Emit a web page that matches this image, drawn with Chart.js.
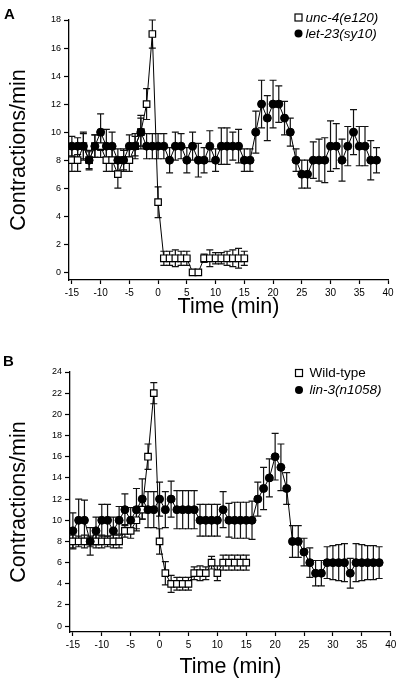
<!DOCTYPE html>
<html><head><meta charset="utf-8">
<script src="https://cdn.jsdelivr.net/npm/chart.js@4.4.0/dist/chart.umd.min.js"></script>
<style>
html,body{margin:0;padding:0;background:#fff;width:400px;height:684px;overflow:hidden}
canvas{position:absolute;left:0}
</style></head>
<body>
<canvas id="chartA" width="400" height="342" style="top:0"></canvas>
<canvas id="chartB" width="400" height="342" style="top:342px"></canvas>
<script>
// ---------- DATA ----------
const minutesShort = [-15,-14,-13,-12,-11,-10,-9,-8,-7,-6,-5,-4,-3,-2,-1,0,1,2,3,4,5,6,7,8,9,10,11,12,13,14,15];
const minutesLong = [-15,-14,-13,-12,-11,-10,-9,-8,-7,-6,-5,-4,-3,-2,-1,0,1,2,3,4,5,6,7,8,9,10,11,12,13,14,15,16,17,18,19,20,21,22,23,24,25,26,27,28,29,30,31,32,33,34,35,36,37,38];
const xTickLabels = [-15,-10,-5,0,5,10,15,20,25,30,35,40];
const yTicksA = [0,2,4,6,8,10,12,14,16,18];
const yTicksB = [0,2,4,6,8,10,12,14,16,18,20,22,24];

const seriesNamesA = ['unc-4(e120)', 'let-23(sy10)'];
const seriesNamesB = ['Wild-type', 'lin-3(n1058)'];

// Panel A
const unc4 = [8,8,9,8,9,9,8,8,7,8, 8,9,10,12,17, 5, 1,1,1,1,1, 0,0, 1,1,1,1,1,1,1,1];
const unc4Err = [0.8,0.8,0.9,0.7,0.8,0.8,0.8,0.8,1.0,0.8, 0.8,0.9,1.0,1.1,1.0, 1.1, 0.5,0.5,0.6,0.5,0.5, 0.2,0.2, 0.3,0.6,0.4,0.4,0.5,0.6,0.7,0.5];
const let23 = [9,9,9,8,9,10,9,9,8,8, 9,9,10,9,9,9,9,8,9,9, 8,9,8,8,9,8,9,9,9,9, 8,8,10,12,11,12,12,11,10,8, 7,7,8,8,8,9,9,8,9,10, 9,9,8,8];
const let23Err = [0.7,0.6,1.0,0.6,0.8,1.3,1.2,1.0,0.8,0.7, 0.8,0.7,1.2,0.9,0.9,0.9,0.9,0.9,1.0,0.9, 0.9,1.0,1.2,0.9,1.1,0.8,1.3,1.3,1.0,1.2, 0.8,0.8,1.5,1.7,1.6,1.7,1.3,1.2,1.0,0.8, 1.0,1.0,1.3,1.5,1.6,1.8,1.6,1.5,1.4,1.6, 1.4,1.4,1.4,0.9];

// Panel B
const wildType = [8,8,8,8,8,8,8,8,8,9, 9,10,11,16,22, 8, 5,4,4,4,4, 5,5,5,6,5, 6,6,6,6,6];
const wildTypeErr = [0.6,0.5,0.6,0.5,0.6,0.6,0.5,0.6,0.6,0.6, 0.7,0.8,0.9,1.2,1.0, 1.2, 1.1,0.8,0.6,0.6,0.6, 0.6,0.7,0.6,0.6,0.7, 0.7,0.7,0.7,0.7,0.7];
const lin3 = [9,10,10,8,9,10,10,9,10,11, 10,11,12,11,11,12,11,12,11,11, 11,11,10,10,10,10,11,10,10,10, 10,10,12,13,14,16,15,13,8,8, 7,6,5,5,6,6,6,6,5,6, 6,6,6,6];
const lin3Err = [1.7,2.0,1.9,1.3,1.3,1.5,1.5,1.3,1.3,1.5, 1.2,2.0,1.9,1.7,1.7,1.6,1.7,1.7,1.8,1.8, 1.8,1.8,1.5,1.5,1.5,1.5,1.7,1.6,1.7,1.7, 1.7,1.8,1.6,2.0,1.8,2.2,2.2,1.5,1.5,1.5, 1.3,1.4,1.2,1.2,1.5,1.6,1.7,1.8,1.4,1.8, 1.7,1.6,1.6,1.5];

// ---------- RENDERING ----------
const FONT = "'Liberation Sans', Arial, Helvetica, sans-serif";

const errorBarPlugin = {
  id: 'errorBars',
  beforeDatasetsDraw(chart) {
    const ctx = chart.ctx;
    const xs = chart.scales.x, ys = chart.scales.y;
    chart.data.datasets.forEach((ds) => {
      const errs = ds.errors || [];
      ctx.save();
      ctx.strokeStyle = '#111';
      ctx.lineWidth = 1.2;
      ds.data.forEach((p, j) => {
        const e = errs[j] || 0;
        const x = xs.getPixelForValue(p.x);
        const yT = ys.getPixelForValue(p.y + e);
        const yB = ys.getPixelForValue(p.y - e);
        ctx.beginPath();
        ctx.moveTo(x, yT); ctx.lineTo(x, yB);
        ctx.moveTo(x - 3.5, yT); ctx.lineTo(x + 3.5, yT);
        ctx.moveTo(x - 3.5, yB); ctx.lineTo(x + 3.5, yB);
        ctx.stroke();
      });
      ctx.restore();
    });
  }
};

const decorPlugin = {
  id: 'decor',
  afterDraw(chart, args, opts) {
    const ctx = chart.ctx;
    ctx.save();
    ctx.fillStyle = '#000';
    ctx.font = 'bold 15px ' + FONT;
    ctx.textBaseline = 'alphabetic';
    ctx.textAlign = 'left';
    ctx.fillText(opts.letter, opts.letterX, opts.letterY);
    const names = chart.data.datasets.map(d => d.label);
    opts.items.forEach((it, i) => {
      ctx.lineWidth = 1.2;
      ctx.strokeStyle = '#000';
      if (it.marker === 'rect') {
        ctx.fillStyle = '#fff';
        ctx.fillRect(it.mx - 3.5, it.my - 3.5, 7, 7);
        ctx.strokeRect(it.mx - 3.5, it.my - 3.5, 7, 7);
      } else {
        ctx.fillStyle = '#000';
        ctx.beginPath();
        ctx.arc(it.mx, it.my, 4, 0, Math.PI * 2);
        ctx.fill();
      }
      ctx.fillStyle = '#000';
      ctx.font = (it.italic ? 'italic ' : '') + '13.5px ' + FONT;
      ctx.textBaseline = 'middle';
      ctx.fillText(names[it.ds], it.tx, it.ty);
    });
    ctx.restore();
  }
};

function toPoints(xs, ys) { return xs.map((x, i) => ({x: x, y: ys[i]})); }

function makeChart(id, cfg) {
  const ctx = document.getElementById(id).getContext('2d');
  return new Chart(ctx, {
    type: 'line',
    data: {
      datasets: [
        {
          label: cfg.names[0],
          data: toPoints(minutesShort, cfg.sq),
          errors: cfg.sqErr,
          order: 2,
          borderColor: '#000', borderWidth: 1,
          pointStyle: 'rect', pointRadius: 4.6,
          pointBackgroundColor: '#fff', pointBorderColor: '#000', pointBorderWidth: 1.2,
          tension: 0, fill: false
        },
        {
          label: cfg.names[1],
          data: toPoints(minutesLong, cfg.ci),
          errors: cfg.ciErr,
          order: 1,
          borderColor: '#000', borderWidth: 1,
          pointStyle: 'circle', pointRadius: 4,
          pointBackgroundColor: '#000', pointBorderColor: '#000', pointBorderWidth: 1,
          tension: 0, fill: false
        }
      ]
    },
    options: {
      responsive: false,
      animation: false,
      devicePixelRatio: 1,
      layout: { padding: cfg.padding },
      plugins: {
        legend: { display: false },
        tooltip: { enabled: false },
        decor: cfg.decor
      },
      scales: {
        x: {
          type: 'linear',
          min: -15.5, max: 40,
          afterBuildTicks(scale) { scale.ticks = xTickLabels.map(v => ({value: v})); },
          afterFit(scale) { scale.height = cfg.xHeight; },
          grid: { display: true, drawOnChartArea: false, drawTicks: true, tickLength: 4, color: '#000', tickWidth: 1.2 },
          border: { display: true, color: '#000', width: 1.3 },
          ticks: { color: '#000', font: { family: FONT, size: 10 }, padding: 3, maxRotation: 0, autoSkip: false },
          title: { display: true, text: 'Time (min)', color: '#000', font: { family: FONT, size: 21.5 }, padding: { top: 0, bottom: cfg.xTitlePad } }
        },
        y: {
          type: 'linear',
          min: -0.55, max: cfg.yMax,
          afterBuildTicks(scale) { scale.ticks = cfg.yTicks.map(v => ({value: v})); },
          afterFit(scale) { scale.width = cfg.yWidth; },
          grid: { display: true, drawOnChartArea: false, drawTicks: true, tickLength: 5, color: '#000', tickWidth: 1.2 },
          border: { display: true, color: '#000', width: 1.3 },
          ticks: { color: '#000', font: { family: FONT, size: 9 }, padding: 3, autoSkip: false },
          title: { display: true, text: 'Contractions/min', color: '#000', font: { family: FONT, size: 21.5 }, padding: { top: 6, bottom: 0 } }
        }
      }
    },
    plugins: [errorBarPlugin, decorPlugin]
  });
}

makeChart('chartA', {
  names: seriesNamesA, sq: unc4, sqErr: unc4Err, ci: let23, ciErr: let23Err,
  yMax: 18, yTicks: yTicksA,
  padding: { top: 20, right: 12, left: 0, bottom: 0 },
  xHeight: 62, yWidth: 69, xTitlePad: 22,
  decor: {
    letter: 'A', letterX: 4, letterY: 18.5,
    items: [
      { ds: 0, marker: 'rect', italic: true, mx: 298.5, my: 17.5, tx: 305.5, ty: 18.5 },
      { ds: 1, marker: 'circle', italic: true, mx: 298.5, my: 33.5, tx: 305.5, ty: 34.5 }
    ]
  }
});

makeChart('chartB', {
  names: seriesNamesB, sq: wildType, sqErr: wildTypeErr, ci: lin3, ciErr: lin3Err,
  yMax: 24, yTicks: yTicksB,
  padding: { top: 30, right: 9.3, left: 0, bottom: 0 },
  xHeight: 52, yWidth: 70, xTitlePad: 4,
  decor: {
    letter: 'B', letterX: 3, letterY: 24,
    items: [
      { ds: 0, marker: 'rect', italic: false, mx: 299, my: 31, tx: 309.5, ty: 31.5 },
      { ds: 1, marker: 'circle', italic: true, mx: 299, my: 48, tx: 309.5, ty: 48.5 }
    ]
  }
});
</script>
</body></html>
